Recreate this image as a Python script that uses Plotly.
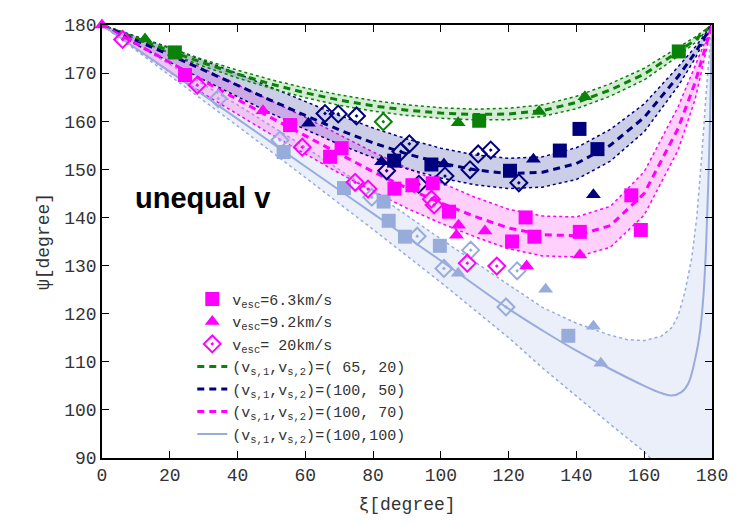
import plotly.graph_objects as go

# ---------------- data ----------------
# model curves: xi grid shared by the three dashed models
xi_grid = [0, 10, 20, 30, 40, 50, 60, 70, 80, 90, 100, 110, 120, 130, 140, 150, 160, 170, 175, 180]

g_center = [180, 177.3, 174.6, 172.1, 169.8, 167.7, 165.9, 164.4, 163.2, 162.3, 161.7, 161.4, 161.5, 162.2, 163.9, 166.5, 169.8, 174.4, 176.9, 180]
g_upper = [180, 177.6, 175.1, 172.8, 170.6, 168.6, 166.9, 165.5, 164.3, 163.4, 162.8, 162.5, 162.7, 163.4, 165.2, 167.8, 171.0, 175.3, 177.5, 180]
g_lower = [180, 177.0, 174.1, 171.4, 169.0, 166.8, 164.9, 163.3, 162.1, 161.2, 160.6, 160.3, 160.3, 161.0, 162.6, 165.2, 168.6, 173.5, 176.3, 180]

n_center = [180, 176.8, 173.8, 170.6, 167.5, 164.3, 161.2, 158.2, 155.5, 153.2, 151.3, 149.9, 149.1, 149.4, 151.2, 155.0, 160.8, 169.3, 174.2, 180]
n_upper = [180, 177.6, 175.3, 172.6, 169.9, 167.0, 164.1, 161.2, 158.6, 156.3, 154.4, 153.0, 152.3, 152.6, 154.5, 158.3, 163.6, 171.3, 175.4, 180]
n_lower = [180, 176.0, 172.3, 168.6, 165.1, 161.6, 158.3, 155.2, 152.4, 150.1, 148.2, 146.8, 146.0, 146.3, 147.9, 151.7, 157.8, 167.3, 173.0, 180]

m_center = [180, 176.1, 172.2, 168.3, 164.5, 160.7, 157.0, 153.2, 149.5, 146.1, 143.0, 140.2, 137.8, 136.4, 136.2, 138.3, 145.0, 158.5, 168.0, 180]
m_upper = [180, 177.1, 174.2, 170.9, 167.6, 164.2, 160.8, 157.2, 153.6, 150.3, 147.2, 144.2, 141.7, 140.3, 140.1, 142.3, 149.5, 163.0, 171.5, 180]
m_lower = [180, 175.1, 170.2, 165.7, 161.4, 157.2, 153.2, 149.2, 145.4, 141.9, 138.8, 136.0, 133.5, 132.0, 131.8, 133.8, 140.5, 154.0, 164.5, 180]

b_xi = [0, 20, 40, 60, 80, 100, 120, 130, 140, 150, 160, 165, 168, 171, 173, 175, 176.5, 177.5, 178.3, 178.9, 179.4, 180]
b_center = [180, 170.3, 160.5, 150.6, 140.8, 131.0, 121.0, 116.5, 112.3, 108.5, 105.0, 103.5, 103.0, 103.7, 105.5, 110.5, 116.5, 124.0, 135.0, 147.0, 160.0, 180]
b_up_xi = [0, 20, 40, 60, 80, 100, 120, 130, 140, 150, 155, 160, 165, 168, 170, 172, 174, 175.5, 177, 178.5, 180]
b_upper = [180, 171.8, 163.4, 154.6, 145.3, 135.5, 126.0, 121.3, 118.0, 115.5, 114.6, 114.4, 115.3, 117.0, 119.5, 124.5, 131.5, 140.0, 153.0, 168.0, 180]
b_lo_xi = [0, 20, 40, 60, 80, 100, 120, 130, 140, 150, 160, 170, 180]
b_lower = [180, 169.5, 159.0, 148.3, 137.5, 126.5, 115.0, 108.7, 102.8, 97.0, 91.3, 84.0, 76.0]

# measured points (xi, psi) per model colour and v_esc
g_sq_x = [21.5, 111.3, 170.2]
g_sq_y = [174.3, 160.1, 174.5]
g_tr_x = [12.7, 105.1, 129.0, 142.5]
g_tr_y = [177.1, 159.7, 162.0, 165.1]
g_di_x = [83.0]
g_di_y = [159.9]

n_sq_x = [86.2, 97.2, 120.4, 135.1, 140.9, 146.2]
n_sq_y = [151.8, 151.0, 149.7, 153.9, 158.4, 154.2]
n_tr_x = [60.9, 82.5, 100.9, 127.3, 145.0]
n_tr_y = [159.6, 151.6, 151.1, 152.1, 144.7]
n_di_x = [65.8, 69.7, 75.1, 84.0, 88.2, 90.7, 93.5, 101.2, 108.6, 111.0, 114.7, 123.0]
n_di_y = [161.6, 161.5, 161.1, 149.7, 153.7, 155.3, 146.9, 148.6, 149.9, 153.2, 154.0, 147.2]

m_sq_x = [24.5, 55.5, 67.3, 70.7, 86.3, 91.6, 97.6, 102.4, 121.0, 125.0, 127.6, 141.0, 156.2, 159.0]
m_sq_y = [169.6, 159.2, 152.6, 154.4, 146.0, 146.7, 147.1, 141.2, 135.0, 140.0, 136.0, 137.0, 144.6, 137.4]
m_tr_x = [0.0, 47.5, 104.6, 105.2, 113.0, 125.3, 141.0]
m_tr_y = [180.0, 162.2, 136.3, 138.4, 137.2, 129.9, 132.2]
m_di_x = [6.1, 28.1, 59.1, 74.7, 78.5, 97.2, 98.0, 107.8, 116.5]
m_di_y = [177.0, 167.5, 154.6, 147.3, 145.9, 143.8, 142.6, 130.5, 129.9]

b_sq_x = [53.6, 71.4, 83.1, 84.6, 89.4, 99.7, 137.6]
b_sq_y = [153.6, 146.1, 143.3, 139.3, 136.0, 134.1, 115.4]
b_tr_x = [105.1, 130.9, 145.0, 147.2]
b_tr_y = [128.4, 125.1, 117.4, 109.7]
b_di_x = [34.3, 52.5, 79.6, 93.0, 100.9, 108.8, 119.2, 122.5]
b_di_y = [164.7, 156.1, 144.2, 136.1, 129.4, 133.2, 121.4, 128.9]

x_ticks = [0, 20, 40, 60, 80, 100, 120, 140, 160, 180]
y_ticks = [90, 100, 110, 120, 130, 140, 150, 160, 170, 180]

legend_points = ["v<sub>esc</sub>=6.3km/s", "v<sub>esc</sub>=9.2km/s", "v<sub>esc</sub>=\u00a020km/s"]
legend_lines = [
    "(v<sub>s,1</sub>,v<sub>s,2</sub>)=(\u00a065,\u00a020)",
    "(v<sub>s,1</sub>,v<sub>s,2</sub>)=(100,\u00a050)",
    "(v<sub>s,1</sub>,v<sub>s,2</sub>)=(100,\u00a070)",
    "(v<sub>s,1</sub>,v<sub>s,2</sub>)=(100,100)",
]

# ---------------- styles ----------------
GREEN = "#0a820a"
NAVY = "#00007f"
MAG = "#ff00ff"
LBLUE = "#98acdc"
fills = {
    "g": "rgba(40,160,40,0.20)",
    "n": "rgba(40,50,160,0.24)",
    "m": "rgba(255,60,240,0.24)",
    "b": "rgba(150,175,225,0.20)",
}
FONT = "Liberation Mono"

fig = go.Figure()

def band(xu, yu, xl, yl, color, fill):
    fig.add_trace(go.Scatter(x=xu, y=yu, mode="lines", showlegend=False, hoverinfo="skip",
                             line=dict(color=color, width=1.5, dash="dot")))
    fig.add_trace(go.Scatter(x=xl, y=yl, mode="lines", showlegend=False, hoverinfo="skip",
                             fill="tonexty", fillcolor=fill,
                             line=dict(color=color, width=1.5, dash="dot")))

# bands (back to front)
band(b_up_xi, b_upper, b_lo_xi, b_lower, LBLUE, fills["b"])
band(xi_grid, m_upper, xi_grid, m_lower, MAG, fills["m"])
band(xi_grid, n_upper, xi_grid, n_lower, NAVY, fills["n"])
band(xi_grid, g_upper, xi_grid, g_lower, GREEN, fills["g"])

# center lines
fig.add_trace(go.Scatter(x=xi_grid, y=g_center, mode="lines", name=legend_lines[0], legendrank=4,
                         line=dict(color=GREEN, width=3, dash="7px,5px")))
fig.add_trace(go.Scatter(x=xi_grid, y=n_center, mode="lines", name=legend_lines[1], legendrank=5,
                         line=dict(color=NAVY, width=3, dash="7px,5px")))
fig.add_trace(go.Scatter(x=xi_grid, y=m_center, mode="lines", name=legend_lines[2], legendrank=6,
                         line=dict(color=MAG, width=3, dash="7px,5px")))
fig.add_trace(go.Scatter(x=b_xi, y=b_center, mode="lines", name=legend_lines[3], legendrank=7,
                         line=dict(color=LBLUE, width=2), line_shape="spline"))

def pts(x, y, color, sym, size, name=None, rank=None):
    open_ = "open" in sym
    marker = dict(symbol=sym, size=size, color=color)
    if open_:
        marker["line"] = dict(color=color, width=2)
    else:
        marker["line"] = dict(width=0)
    fig.add_trace(go.Scatter(x=x, y=y, mode="markers", marker=marker, cliponaxis=False,
                             name=name or "", showlegend=name is not None,
                             legendrank=rank if rank else 1000))

for (sx, sy, tx, ty, dx, dy, col) in [
    (b_sq_x, b_sq_y, b_tr_x, b_tr_y, b_di_x, b_di_y, LBLUE),
    (g_sq_x, g_sq_y, g_tr_x, g_tr_y, g_di_x, g_di_y, GREEN),
    (n_sq_x, n_sq_y, n_tr_x, n_tr_y, n_di_x, n_di_y, NAVY),
]:
    pts(dx, dy, col, "diamond-open-dot", 13)
    pts(sx, sy, col, "square", 14)
    pts(tx, ty, col, "triangle-up", 13)

pts(m_di_x, m_di_y, MAG, "diamond-open-dot", 13, legend_points[2], 3)
pts(m_sq_x, m_sq_y, MAG, "square", 14, legend_points[0], 1)
pts(m_tr_x, m_tr_y, MAG, "triangle-up", 13, legend_points[1], 2)

fig.add_annotation(x=9, y=144, xref="x", yref="y", text="<b>unequal v</b>", showarrow=False,
                   xanchor="left", yanchor="middle",
                   font=dict(family="Liberation Sans, Arial", size=29, color="black"))

axis_common = dict(ticks="inside", ticklen=7, tickwidth=1.2, tickcolor="black",
                   showline=True, linecolor="black", linewidth=1.5, mirror="ticks",
                   showgrid=False, zeroline=False,
                   tickfont=dict(family=FONT, size=18, color="#333333"))

fig.update_layout(
    width=750, height=525,
    margin=dict(l=102, r=38, t=25, b=67),
    paper_bgcolor="white", plot_bgcolor="white",
    xaxis=dict(range=[0, 180], tickvals=x_ticks, ticktext=[str(v) for v in x_ticks],
               title=dict(text="\u03be[degree]", font=dict(family=FONT, size=18, color="#333333"), standoff=12),
               **axis_common),
    yaxis=dict(range=[90, 180], tickvals=y_ticks, ticktext=[str(v) for v in y_ticks],
               title=dict(text="\u03c8[degree]", font=dict(family=FONT, size=18, color="#333333"), standoff=10),
               **axis_common),
    legend=dict(x=0.148, y=0.405, xanchor="left", yanchor="top", bgcolor="rgba(0,0,0,0)",
                font=dict(family=FONT, size=15, color="#333333"), tracegroupgap=0,
                traceorder="normal", itemwidth=30),
    showlegend=True,
)

fig.write_html("out.html")
